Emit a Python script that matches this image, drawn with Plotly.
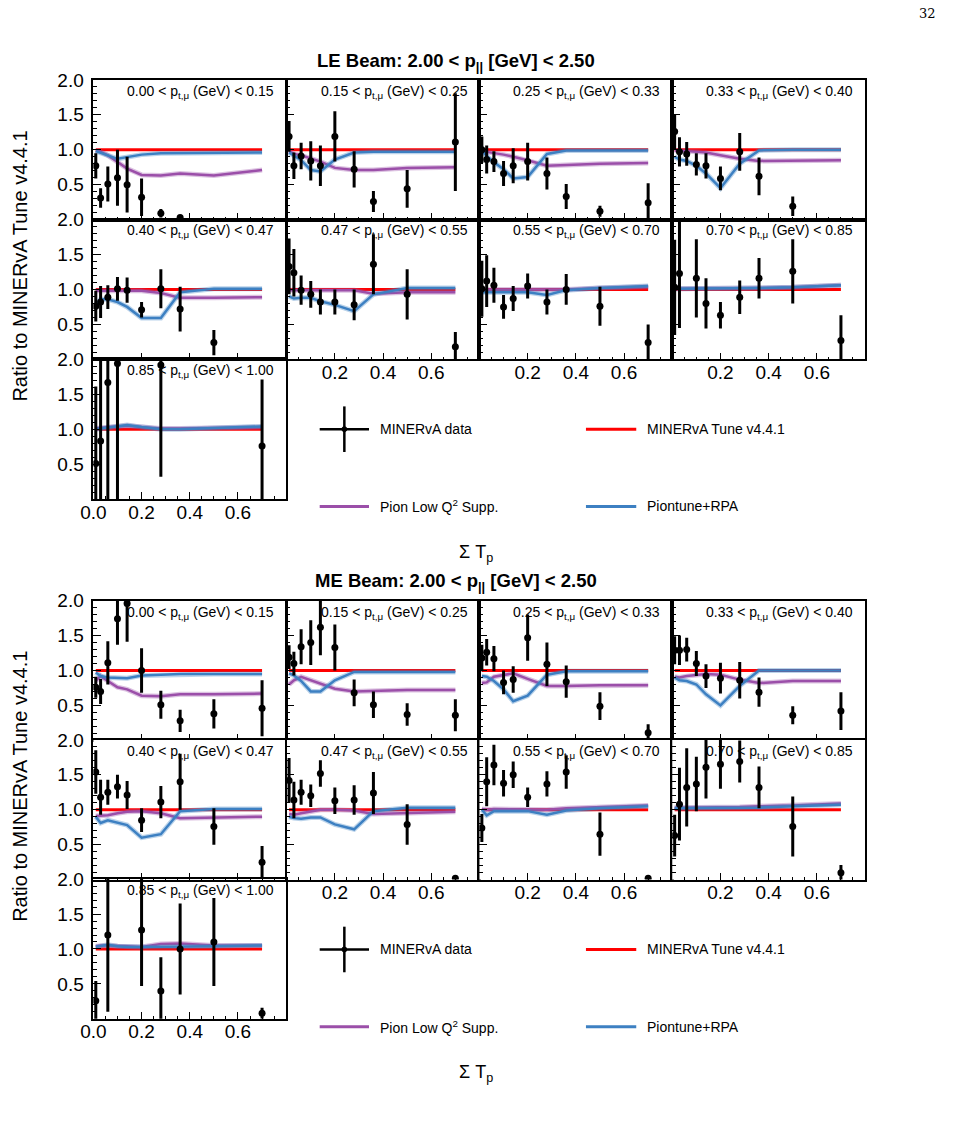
import plotly.graph_objects as go

# ---------------- data ----------------
sum_tp = [0.01, 0.03, 0.06, 0.10, 0.14, 0.20, 0.28, 0.36, 0.50, 0.70]
pt_edges = ["0.00", "0.15", "0.25", "0.33", "0.40", "0.47", "0.55", "0.70", "0.85", "1.00"]
tune_ratio = [1.0, 1.0, 1.0, 1.0, 1.0, 1.0, 1.0, 1.0, 1.0, 1.0]

le_data = [
    [0.77, 0.31, 0.51, 0.60, 0.50, 0.32, 0.09, 0.03, None, None],
    [1.19, 0.77, 0.91, 0.84, 0.77, 1.19, 0.72, 0.26, 0.44, 1.11],
    [1.00, 0.86, 0.83, 0.66, 0.77, 0.83, 0.66, 0.33, 0.12, 0.24],
    [1.26, 0.97, 0.94, 0.79, 0.77, 0.59, 0.97, 0.62, 0.19, None],
    [0.76, 0.82, 0.89, 1.01, 0.99, 0.71, 1.01, 0.72, 0.24, None],
    [1.33, 1.24, 0.99, 0.93, 0.82, 0.82, 0.78, 1.36, 0.93, 0.18],
    [1.01, 1.12, 1.06, 0.75, 0.87, 1.05, 0.82, 1.00, 0.76, 0.24],
    [1.03, 1.23, None, 1.16, 0.80, 0.63, 0.89, 1.16, 1.26, 0.27],
    [0.51, 0.83, 1.67, 1.94, None, None, 1.92, None, None, 0.76],
]
le_err = [
    [0.18, 0.14, 0.25, 0.40, 0.40, 0.27, 0.06, 0.03, 0, 0],
    [0.22, 0.19, 0.19, 0.28, 0.29, 0.36, 0.26, 0.15, 0.27, 0.70],
    [0.19, 0.20, 0.15, 0.18, 0.25, 0.27, 0.23, 0.18, 0.08, 0.28],
    [0.25, 0.21, 0.17, 0.16, 0.18, 0.17, 0.27, 0.27, 0.14, 0],
    [0.22, 0.23, 0.17, 0.17, 0.18, 0.11, 0.28, 0.32, 0.18, 0],
    [0.40, 0.34, 0.21, 0.19, 0.18, 0.18, 0.22, 0.43, 0.36, 0.21],
    [0.40, 0.37, 0.25, 0.17, 0.18, 0.18, 0.18, 0.22, 0.28, 0.26],
    [0.68, 0.78, 0, 0.56, 0.36, 0.19, 0.24, 0.29, 0.46, 0.36],
    [1.10, 1.30, 1.80, 2.00, 0, 0, 1.60, 0, 0, 0.95],
]
le_pion_lowq2 = [
    [0.99, 0.97, 0.92, 0.83, 0.73, 0.64, 0.63, 0.66, 0.63, 0.71],
    [0.98, 0.94, 0.92, 0.88, 0.83, 0.74, 0.71, 0.71, 0.74, 0.75],
    [0.98, 0.97, 0.96, 0.93, 0.90, 0.85, 0.77, 0.78, 0.80, 0.81],
    [0.99, 0.99, 0.98, 0.97, 0.96, 0.92, 0.87, 0.84, 0.84, 0.85],
    [0.98, 0.98, 0.98, 0.98, 0.98, 0.98, 0.95, 0.88, 0.88, 0.89],
    [0.99, 0.99, 0.99, 0.99, 0.99, 0.99, 0.99, 0.94, 0.96, 0.96],
    [0.99, 1.00, 1.00, 1.00, 1.00, 1.00, 0.99, 1.00, 1.02, 1.04],
    [1.01, 1.01, 1.01, 1.01, 1.01, 1.01, 1.02, 1.02, 1.03, 1.06],
    [1.01, 1.02, 1.03, 1.04, 1.05, 1.03, 1.01, 1.01, 1.02, 1.03],
]
le_piontune_rpa = [
    [0.98, 0.96, 0.92, 0.87, 0.89, 0.93, 0.95, 0.95, 0.95, 0.96],
    [0.96, 0.92, 0.85, 0.71, 0.69, 0.86, 0.96, 0.97, 0.97, 0.97],
    [0.99, 0.91, 0.82, 0.72, 0.59, 0.61, 0.94, 0.99, 0.99, 0.99],
    [0.90, 0.86, 0.84, 0.77, 0.66, 0.45, 0.80, 0.99, 1.00, 1.00],
    [0.78, 0.86, 0.86, 0.82, 0.75, 0.59, 0.59, 0.96, 1.01, 1.01],
    [0.90, 0.87, 0.88, 0.88, 0.83, 0.78, 0.69, 0.93, 1.02, 1.02],
    [0.96, 0.96, 0.96, 0.96, 0.97, 0.96, 0.92, 0.99, 1.02, 1.05],
    [1.01, 1.01, 1.01, 1.01, 1.01, 1.01, 1.02, 1.02, 1.03, 1.06],
    [1.00, 1.01, 1.03, 1.04, 1.06, 1.03, 1.00, 1.00, 1.02, 1.04],
]

me_data = [
    [0.76, 0.70, 1.11, 1.74, 1.96, 1.00, 0.51, 0.28, 0.38, 0.46],
    [1.19, 1.10, 1.34, 1.40, 1.62, 1.33, 0.68, 0.51, 0.37, 0.36],
    [1.18, 1.26, 1.17, 0.83, 0.87, 1.47, 1.09, 0.84, 0.49, 0.11],
    [1.29, 1.29, 1.30, 1.10, 0.92, 0.89, 0.86, 0.69, 0.36, 0.42],
    [1.54, 1.18, 1.25, 1.33, 1.21, 0.85, 1.11, 1.40, 0.76, 0.25],
    [1.42, 1.14, 1.25, 1.20, 1.52, 1.13, 1.14, 1.24, 0.79, 0.02],
    [0.74, 1.40, 1.64, 1.38, 1.50, 1.18, 1.37, 1.54, 0.65, 0.02],
    [0.63, 1.08, 1.32, 1.37, 1.61, 1.65, 1.69, 1.32, 0.76, 0.10],
    [0.26, None, 1.20, None, None, 1.27, 0.40, 1.00, 1.10, 0.08],
]
me_err = [
    [0.15, 0.18, 0.31, 0.37, 0.55, 0.32, 0.20, 0.16, 0.21, 0.40],
    [0.17, 0.17, 0.25, 0.32, 0.40, 0.33, 0.19, 0.19, 0.16, 0.23],
    [0.19, 0.19, 0.18, 0.17, 0.19, 0.33, 0.31, 0.23, 0.20, 0.12],
    [0.20, 0.21, 0.17, 0.18, 0.17, 0.22, 0.26, 0.21, 0.13, 0.27],
    [0.31, 0.25, 0.18, 0.17, 0.20, 0.17, 0.23, 0.40, 0.26, 0.23],
    [0.32, 0.26, 0.18, 0.16, 0.19, 0.19, 0.21, 0.30, 0.29, 0.02],
    [0.20, 0.35, 0.29, 0.19, 0.19, 0.14, 0.18, 0.24, 0.31, 0.02],
    [0.30, 0.52, 0.56, 0.39, 0.45, 0.35, 0.30, 0.30, 0.43, 0.11],
    [0.28, 0, 1.10, 0, 0, 0.80, 0.48, 0.65, 0.63, 0.08],
]
me_pion_lowq2 = [
    [0.85, 0.92, 0.85, 0.76, 0.73, 0.64, 0.63, 0.66, 0.66, 0.67],
    [0.80, 0.86, 0.91, 0.86, 0.82, 0.74, 0.70, 0.71, 0.72, 0.72],
    [0.82, 0.83, 0.91, 0.94, 0.96, 0.88, 0.78, 0.78, 0.79, 0.79],
    [0.91, 0.90, 0.92, 0.94, 0.95, 0.94, 0.87, 0.82, 0.85, 0.85],
    [0.91, 0.91, 0.92, 0.95, 0.97, 0.98, 0.95, 0.88, 0.89, 0.90],
    [0.94, 0.93, 0.95, 0.98, 1.00, 1.00, 0.99, 0.94, 0.95, 0.97],
    [1.01, 1.00, 1.01, 1.01, 1.01, 1.01, 1.00, 1.02, 1.04, 1.06],
    [1.03, 1.03, 1.03, 1.03, 1.03, 1.03, 1.04, 1.05, 1.06, 1.09],
    [1.04, 1.05, 1.05, 1.04, 1.04, 1.03, 1.07, 1.08, 1.05, 1.05],
]
me_piontune_rpa = [
    [0.97, 0.92, 0.90, 0.90, 0.89, 0.93, 0.94, 0.95, 0.95, 0.95],
    [0.96, 0.93, 0.85, 0.70, 0.70, 0.86, 0.98, 0.98, 0.98, 0.98],
    [0.92, 0.91, 0.85, 0.73, 0.56, 0.64, 0.94, 0.99, 0.99, 0.99],
    [0.90, 0.86, 0.85, 0.80, 0.66, 0.50, 0.78, 1.00, 1.00, 1.00],
    [0.90, 0.81, 0.85, 0.82, 0.78, 0.60, 0.65, 0.98, 1.01, 1.01],
    [0.90, 0.88, 0.87, 0.89, 0.89, 0.79, 0.72, 0.98, 1.03, 1.03],
    [1.00, 0.92, 0.98, 0.98, 0.99, 0.98, 0.93, 0.99, 1.02, 1.05],
    [1.02, 1.02, 1.02, 1.02, 1.02, 1.02, 1.03, 1.03, 1.05, 1.07],
    [1.03, 1.04, 1.06, 1.04, 1.03, 1.03, 1.03, 1.03, 1.04, 1.05],
]

beams = [
    ("LE", le_data, le_err, le_pion_lowq2, le_piontune_rpa),
    ("ME", me_data, me_err, me_pion_lowq2, me_piontune_rpa),
]

# ---------------- layout geometry (screen pixels) ----------------
PAGE_OFF = 8            # default body margin of the html page
FW, FH = 939, 1112      # figure size so that page fits the 955x1128 window
FONT = "Liberation Sans, Arial, Helvetica, sans-serif"
RED = "#ff0000"
PURPLE = "#9b4fa9"
BLUE = "#3d80c2"
PURPLE_BAND = "rgba(155,79,169,0.35)"
BLUE_BAND = "rgba(61,128,194,0.35)"

cols_left = [89.5, 285.5, 481.0, 676.5]
panel_w = 195.5
panel_h = 141.0
rows_top = {"LE": [78.5, 219.5, 360.5], "ME": [604.0, 744.5, 885.0]}
beam_offset = {"LE": 0.0, "ME": 525.0}


def px(x):
    return (x - PAGE_OFF) / FW


def py(y):
    return 1 - (y - PAGE_OFF) / FH


fig = go.Figure()
layout = dict(
    width=FW, height=FH,
    margin=dict(l=0, r=0, t=0, b=0),
    paper_bgcolor="white", plot_bgcolor="white",
    showlegend=False,
    font=dict(family=FONT, color="black"),
)
annotations = []
shapes = []

k = 0
for beam, data, err, lowq2, rpa in beams:
    for i in range(9):
        row, col = divmod(i, 4)
        x0 = cols_left[col]
        y0 = rows_top[beam][row]
        xname = "x" if k == 0 else f"x{k+1}"
        yname = "y" if k == 0 else f"y{k+1}"
        xkey = "xaxis" if k == 0 else f"xaxis{k+1}"
        ykey = "yaxis" if k == 0 else f"yaxis{k+1}"

        fig.add_trace(go.Scatter(x=sum_tp, y=tune_ratio, mode="lines",
                                 line=dict(color=RED, width=3),
                                 xaxis=xname, yaxis=yname, hoverinfo="skip"))
        fig.add_trace(go.Scatter(x=sum_tp, y=lowq2[i], mode="lines",
                                 line=dict(color=PURPLE_BAND, width=5),
                                 xaxis=xname, yaxis=yname, hoverinfo="skip"))
        fig.add_trace(go.Scatter(x=sum_tp, y=lowq2[i], mode="lines",
                                 line=dict(color=PURPLE, width=2.5),
                                 xaxis=xname, yaxis=yname))
        fig.add_trace(go.Scatter(x=sum_tp, y=rpa[i], mode="lines",
                                 line=dict(color=BLUE_BAND, width=5),
                                 xaxis=xname, yaxis=yname, hoverinfo="skip"))
        fig.add_trace(go.Scatter(x=sum_tp, y=rpa[i], mode="lines",
                                 line=dict(color=BLUE, width=2.5),
                                 xaxis=xname, yaxis=yname))
        fig.add_trace(go.Scatter(x=sum_tp, y=data[i], mode="markers",
                                 marker=dict(color="black", size=7),
                                 error_y=dict(type="data", array=err[i], color="black",
                                              thickness=3, width=0),
                                 xaxis=xname, yaxis=yname))

        if row == 2:
            xtv, xtt, xshow = [0, 0.2, 0.4, 0.6], ["0.0", "0.2", "0.4", "0.6"], True
        elif row == 1 and col > 0:
            xtv, xtt, xshow = [0.2, 0.4, 0.6], ["0.2", "0.4", "0.6"], True
        else:
            xtv, xtt, xshow = [0, 0.2, 0.4, 0.6], ["0.0", "0.2", "0.4", "0.6"], False
        layout[xkey] = dict(
            domain=[px(x0), px(x0 + panel_w)], range=[0, 0.8], anchor=yname,
            showline=True, mirror=True, linecolor="black", linewidth=1.6,
            ticks="inside", ticklen=7, tickwidth=1, tickcolor="black",
            tickmode="array", tickvals=xtv, ticktext=xtt, showticklabels=xshow,
            minor=dict(ticks="inside", ticklen=3, tickcolor="black",
                       tickmode="linear", tick0=0, dtick=0.05),
            showgrid=False, zeroline=False, fixedrange=True,
            ticklabelstandoff=-5,
            tickfont=dict(size=19, family=FONT, color="black"),
        )
        layout[ykey] = dict(
            domain=[py(y0 + panel_h), py(y0)], range=[0, 2], anchor=xname,
            showline=True, mirror=True, linecolor="black", linewidth=1.6,
            ticks="inside", ticklen=8, tickwidth=1, tickcolor="black",
            tickmode="array", tickvals=[0.5, 1.0, 1.5, 2.0],
            ticktext=["0.5", "1.0", "1.5", "2.0"], showticklabels=(col == 0),
            minor=dict(ticks="inside", ticklen=4, tickcolor="black",
                       tickmode="linear", tick0=0, dtick=0.1),
            showgrid=False, zeroline=False, fixedrange=True,
            ticklabelstandoff=4,
            tickfont=dict(size=19, family=FONT, color="black"),
        )

        annotations.append(dict(
            xref="paper", yref="paper", x=px(x0 + panel_w - 10), y=py(y0 + 12),
            xanchor="right", yanchor="middle", showarrow=False,
            text=f"{pt_edges[i]} < p<sub>t,μ</sub> (GeV) < {pt_edges[i+1]}",
            font=dict(size=14, family=FONT, color="black"),
        ))
        k += 1

    off = beam_offset[beam]
    annotations.append(dict(
        xref="paper", yref="paper", x=px(457), y=py(60 + off),
        xanchor="center", yanchor="middle", showarrow=False,
        text=f"<b>{beam} Beam: 2.00 < p<sub>||</sub> [GeV] < 2.50</b>",
        font=dict(size=18.5, family=FONT, color="black"),
    ))
    annotations.append(dict(
        xref="paper", yref="paper", x=px(15), y=py(266 + off),
        xanchor="center", yanchor="middle", showarrow=False, textangle=-90,
        text="Ratio to MINERvA Tune v4.4.1",
        font=dict(size=20, family=FONT, color="black"),
    ))
    annotations.append(dict(
        xref="paper", yref="paper", x=px(478), y=py(556 + off),
        xanchor="center", yanchor="middle", showarrow=False,
        text="Σ T<sub>p</sub>",
        font=dict(size=18, family=FONT, color="black"),
    ))

    # legend key drawn in the empty grid cells
    ly1, ly2 = 431 + off, 509 + off
    shapes.append(dict(type="line", xref="paper", yref="paper",
                       x0=px(319), x1=px(369), y0=py(ly1), y1=py(ly1),
                       line=dict(color="black", width=2.5)))
    shapes.append(dict(type="line", xref="paper", yref="paper",
                       x0=px(344), x1=px(344), y0=py(ly1 - 23), y1=py(ly1 + 23),
                       line=dict(color="black", width=2.5)))
    shapes.append(dict(type="circle", xref="paper", yref="paper",
                       x0=px(341.5), x1=px(346.5), y0=py(ly1 - 2.5), y1=py(ly1 + 2.5),
                       fillcolor="black", line=dict(color="black", width=1)))
    shapes.append(dict(type="line", xref="paper", yref="paper",
                       x0=px(589), x1=px(640), y0=py(ly1), y1=py(ly1),
                       line=dict(color=RED, width=3)))
    shapes.append(dict(type="line", xref="paper", yref="paper",
                       x0=px(319), x1=px(369), y0=py(ly2), y1=py(ly2),
                       line=dict(color=PURPLE, width=3)))
    shapes.append(dict(type="line", xref="paper", yref="paper",
                       x0=px(589), x1=px(640), y0=py(ly2), y1=py(ly2),
                       line=dict(color=BLUE, width=3)))
    for tx, ty, txt in [(378, ly1, "MINERvA data"), (649, ly1, "MINERvA Tune v4.4.1"),
                        (378, ly2, "Pion Low Q<sup>2</sup> Supp."), (649, ly2, "Piontune+RPA")]:
        annotations.append(dict(
            xref="paper", yref="paper", x=px(tx), y=py(ty),
            xanchor="left", yanchor="middle", showarrow=False, text=txt,
            font=dict(size=14, family=FONT, color="black"),
        ))

annotations.append(dict(
    xref="paper", yref="paper", x=px(946), y=py(12),
    xanchor="right", yanchor="middle", showarrow=False, text="32",
    font=dict(size=13, family="DejaVu Serif, Liberation Serif, serif", color="black"),
))

layout["annotations"] = annotations
layout["shapes"] = shapes
fig.update_layout(**layout)
fig.write_html("out.html")
